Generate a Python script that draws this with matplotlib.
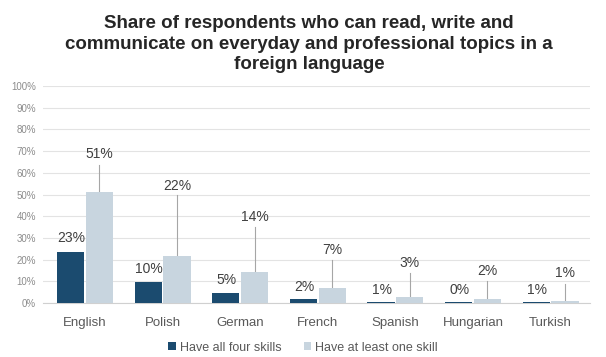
import matplotlib.pyplot as plt
import numpy as np

plt.rcParams['font.family'] = ['Liberation Sans', 'DejaVu Sans']

# Data (percent)
languages = ['English', 'Polish', 'German', 'French', 'Spanish', 'Hungarian', 'Turkish']
all_four = [23.4, 9.6, 4.8, 1.9, 0.6, 0.3, 0.6]
at_least_one = [51.2, 21.6, 14.3, 6.9, 2.7, 1.8, 0.9]

# label heights (percent axis) used by the original chart's label placement
dark_label_y = [30.0, 15.7, 10.6, 7.4, 6.0, 6.0, 6.0]
light_label_y = [68.7, 54.0, 39.6, 24.4, 18.4, 14.7, 13.8]
light_line_top = [63.6, 50.0, 35.0, 20.0, 13.8, 10.0, 9.0]

dark = '#1b4b6f'
light = '#c8d5df'
text_col = '#404040'

fig = plt.figure(figsize=(6.06, 3.57), dpi=100)
ax = fig.add_axes([0.071, 0.151, 0.903, 0.608])

x = np.arange(len(languages))
w = 0.35
ax.bar(x - w / 2 - 0.01, all_four, w, color=dark, label='Have all four skills', zorder=3)
ax.bar(x + w / 2 + 0.01, at_least_one, w, color=light, label='Have at least one skill', zorder=3)

for i in range(len(languages)):
    ax.text(x[i] - w / 2, dark_label_y[i], f'{all_four[i]:.0f}%', ha='center', va='center',
            fontsize=10, color=text_col, zorder=4)
    ax.text(x[i] + w / 2 + 0.01, light_label_y[i], f'{at_least_one[i]:.0f}%', ha='center', va='center',
            fontsize=10, color=text_col, zorder=4)
    ax.plot([x[i] + w / 2 + 0.01] * 2, [at_least_one[i], light_line_top[i]],
            color='#a6a6a6', lw=0.8, zorder=2)

ax.set_xlim(-0.54, 6.51)
ax.set_ylim(0, 100)
ax.set_yticks(np.arange(0, 101, 10))
ax.set_yticklabels([f'{v}%' for v in range(0, 101, 10)], fontsize=7, color='#8c8c8c')
ax.set_xticks(x)
ax.set_xticklabels(languages, fontsize=9.5, color='#595959')
ax.tick_params(axis='both', length=0)
ax.tick_params(axis='y', pad=5)
ax.tick_params(axis='x', pad=10)
ax.grid(axis='y', color='#e3e3e3', lw=0.8, zorder=0)
for s in ['top', 'right', 'left']:
    ax.spines[s].set_visible(False)
ax.spines['bottom'].set_color('#d0d0d0')

fig.text(0.51, 0.958, 'Share of respondents who can read, write and\n'
         'communicate on everyday and professional topics in a\nforeign language',
         ha='center', va='top', fontsize=13.5, fontweight='bold', color='#262626',
         linespacing=1.27)

fig.legend(loc='lower center', bbox_to_anchor=(0.5, -0.012), ncol=2, frameon=False,
           fontsize=9, handlelength=0.6, handleheight=0.6, handletextpad=0.3,
           columnspacing=1.8, labelcolor='#595959', borderpad=0.1)

fig.savefig('out.png', dpi=100)
